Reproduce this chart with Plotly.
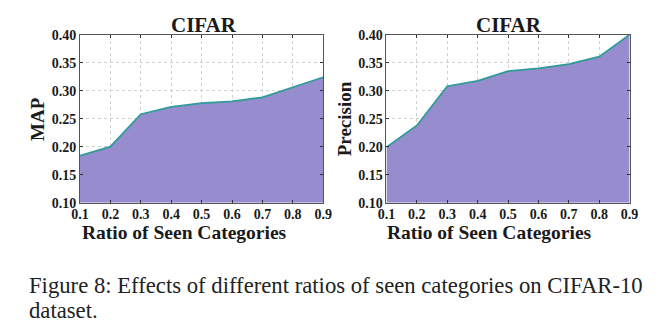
import plotly.graph_objects as go

ratios = [0.1, 0.2, 0.3, 0.4, 0.5, 0.6, 0.7, 0.8, 0.9]
map_vals = [0.184, 0.200, 0.258, 0.271, 0.278, 0.281, 0.288, 0.306, 0.324]
prec_vals = [0.199, 0.238, 0.308, 0.3175, 0.335, 0.340, 0.3476, 0.3607, 0.400]
x_ticks = [0.1, 0.2, 0.3, 0.4, 0.5, 0.6, 0.7, 0.8, 0.9]
y_ticks = [0.10, 0.15, 0.20, 0.25, 0.30, 0.35, 0.40]
panel_titles = ["CIFAR", "CIFAR"]
y_titles = ["MAP", "Precision"]
x_title = "Ratio of Seen Categories"
caption_1 = "Figure 8: Effects of different ratios of seen categories on CIFAR-10"
caption_2 = "dataset."

W, H = 661, 332
FILL = "#968cce"
LINE = "#2f9c98"
SERIF = "Liberation Serif, Times New Roman, serif"

fig = go.Figure()
for i, vals in enumerate([map_vals, prec_vals]):
    suf = "" if i == 0 else "2"
    fig.add_trace(go.Scatter(x=ratios, y=[0.10] * len(ratios), mode="lines",
                             line=dict(width=0), showlegend=False,
                             xaxis="x" + suf, yaxis="y" + suf, hoverinfo="skip"))
    fig.add_trace(go.Scatter(x=ratios, y=vals, mode="lines", fill="tonexty",
                             fillcolor=FILL, line=dict(color=LINE, width=1.8),
                             showlegend=False, xaxis="x" + suf, yaxis="y" + suf))

ax_common = dict(showline=True, mirror="ticks", linecolor="#555555", linewidth=1,
                 ticks="inside", ticklen=3, tickcolor="#333333",
                 showgrid=True, gridcolor="#d0d0d0", griddash="dot", gridwidth=1,
                 zeroline=False,
                 tickfont=dict(family=SERIF, size=14, color="#1a1a1a"))
yd = [1 - 205 / H, 1 - 29 / H]
xt = [f"<b>{v:.1f}</b>" for v in x_ticks]
ytl = [f"<b>{v:.2f}</b>" for v in y_ticks]
fig.update_layout(
    width=W, height=H, margin=dict(l=0, r=0, t=0, b=0),
    paper_bgcolor="white", plot_bgcolor="white",
    xaxis=dict(domain=[73 / W, 323 / W], range=[0.1, 0.9], tickvals=x_ticks,
               ticktext=xt, anchor="y", ticklabelstandoff=-2, **ax_common),
    yaxis=dict(domain=yd, range=[0.10, 0.40], tickvals=y_ticks,
               ticktext=ytl, anchor="x", **ax_common),
    xaxis2=dict(domain=[388 / W, 638 / W], range=[0.1, 0.9], tickvals=x_ticks,
                ticktext=xt, anchor="y2", ticklabelstandoff=-2, **ax_common),
    yaxis2=dict(domain=yd, range=[0.10, 0.40], tickvals=y_ticks,
                ticktext=ytl, anchor="x2", **ax_common),
)

ann = []
tfont = dict(family=SERIF, size=21, color="#1a1a1a")
for cx, t in zip([200, 514], panel_titles):
    ann.append(dict(x=cx / W, y=1 - 19 / H, xref="paper", yref="paper", text=f"<b>{t}</b>",
                    showarrow=False, font=tfont, xanchor="center", yanchor="middle"))
for cx, t in zip([30, 345], y_titles):
    ann.append(dict(x=cx / W, y=1 - 117 / H, xref="paper", yref="paper", text=f"<b>{t}</b>",
                    showarrow=False, font=dict(family=SERIF, size=19, color="#1a1a1a"),
                    textangle=-90, xanchor="center", yanchor="middle"))
for cx in [180, 494]:
    ann.append(dict(x=cx / W, y=1 - 236 / H, xref="paper", yref="paper", text=f"<b>{x_title}</b>",
                    showarrow=False, font=dict(family=SERIF, size=19.5, color="#1a1a1a"),
                    xanchor="center", yanchor="middle"))
cfont = dict(family=SERIF, size=22.7, color="#222222")
ann.append(dict(x=19 / W, y=1 - 292 / H, xref="paper", yref="paper", text=caption_1,
                showarrow=False, font=cfont, xanchor="left", yanchor="middle"))
ann.append(dict(x=19 / W, y=1 - 318 / H, xref="paper", yref="paper", text=caption_2,
                showarrow=False, font=cfont, xanchor="left", yanchor="middle"))
fig.update_layout(annotations=ann)

fig.write_html("out.html")
